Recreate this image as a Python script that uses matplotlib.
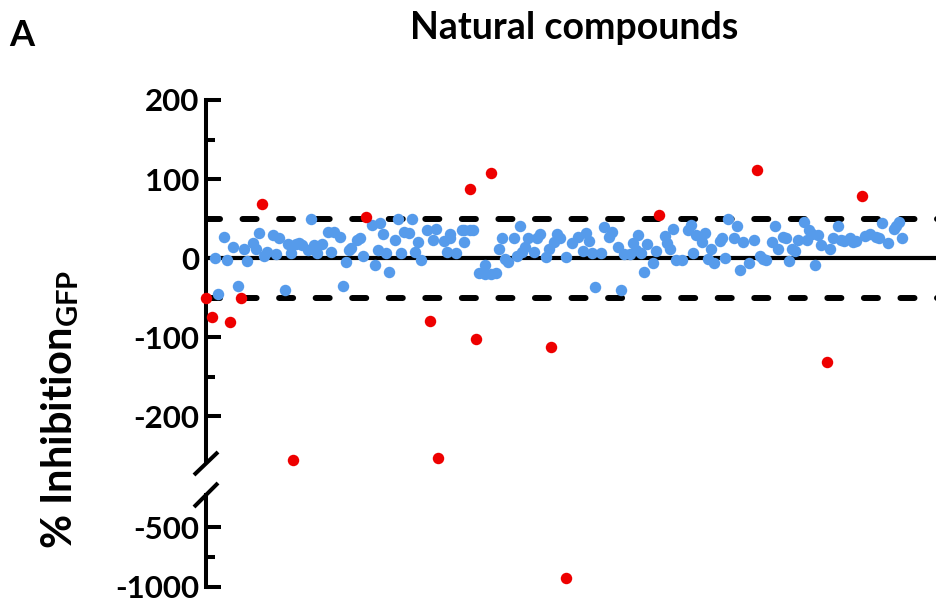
import matplotlib
matplotlib.use("Agg")
import matplotlib.pyplot as plt
from matplotlib.lines import Line2D
import numpy as np

plt.rcParams['font.family'] = ['Lato', 'DejaVu Sans']
plt.rcParams['font.weight'] = 'bold'
plt.rcParams['axes.unicode_minus'] = False
plt.rcParams['mathtext.fontset'] = 'custom'
plt.rcParams['mathtext.rm'] = 'Lato:bold'
plt.rcParams['mathtext.bf'] = 'Lato:bold'

# ---- data: compound position (screen order) and % inhibition ----
inactive_idx = [3, 4, 6, 7, 9, 11, 13, 14, 16, 17, 18, 20, 21, 23, 24, 25, 27, 28, 29,
                31, 32, 33, 35, 36, 37, 38, 40, 42, 43, 44, 46, 47, 48, 49, 50, 52, 53,
                54, 57, 58, 59, 60, 61, 62, 63, 65, 66, 67, 68, 70, 71, 72, 73, 74, 76,
                78, 79, 82, 83, 84, 84, 86, 88, 89, 89, 91, 92, 94, 96, 96, 98, 100, 101,
                102, 103, 104, 106, 107, 108, 109, 110, 111, 113, 114, 115, 117, 118, 120,
                121, 122, 124, 126, 128, 130, 131, 132, 133, 134, 136, 137, 139, 140, 142,
                143, 144, 146, 147, 148, 149, 150, 151, 152, 154, 155, 158, 159, 160, 161,
                162, 164, 166, 167, 168, 169, 171, 172, 173, 174, 175, 177, 178, 179, 180,
                182, 183, 184, 185, 187, 189, 191, 192, 193, 195, 196, 197, 199, 200, 201,
                202, 203, 204, 206, 207, 208, 209, 210, 211, 212, 215, 216, 218, 219, 220,
                222, 223, 224, 227, 229, 231, 232, 233, 235, 237, 238, 239, 240]
inactive_val = [0, -45, 27, -2, 14, -35, 12, -4, 19, 11, 32, 3, 8, 29, 5, 25, -41, 18, 6,
                18, 19, 16, 10, 49, 16, 6, 18, 33, 8, 33, 27, -35, -5, 10, 13, 23, 25,
                3, 42, -9, 10, 44, 31, 6, -17, 23, 50, 6, 33, 32, 50, 8, 20, -2, 36,
                23, 37, 21, 8, 30, 25, 7, 35, 20, 36, 36, 36, -19, -9, -20, -20, -19, 11,
                26, -1, -5, 26, 3, 40, 8, 14, 26, 8, 26, 31, 1, 11, 20,
                30, 25, 1, 19, 27, 9, 32, 22, 6, -36, 6, 39, 27, 33, 14,
                -41, 5, 5, 19, 10, 29, 6, -17, 18, -6, 9, 28, 19, 11, 37,
                -3, -2, 35, 42, 6, 29, 20, 32, -1, 12, -6, 22, 25, 0, 50,
                25, 40, -15, 20, -6, 23, 2, -1, -3, 20, 40, 11, 27, 25, -4,
                11, 9, 23, 46, 23, 36, 31, -9, 29, 16, 12, 26, 40, 23, 22,
                26, 20, 22, 28, 30, 27, 26, 44, 19, 37, 40, 46, 26]

hit_idx = [0, 2, 8, 12, 19, 30, 55, 77, 80, 91, 93, 98, 119, 124, 156, 190, 214, 226]
hit_val = [-51, -75, -81, -50, 69, -256, 52, -79, -253, 88, -103, 108, -113, -924,
           55, 111, -132, 78]

threshold = 50
upper_ticks = [-200, -100, 0, 100, 200]
upper_minor = [-150, -50, 50, 150]
lower_ticks = [-1000, -500]
lower_minor = [-750]
upper_lim = (-258, 200)
lower_lim = (-1000, -233)
n_slots = 252

BLUE = '#569BEB'
RED = '#EE0000'

W, H = 937, 603
fig = plt.figure(figsize=(W / 100, H / 100), dpi=100)


def box(l, t, r, b):
    return [l / W, 1 - b / H, (r - l) / W, (b - t) / H]


ax_top = fig.add_axes(box(206.5, 100, 937, 462))
ax_bot = fig.add_axes(box(206.5, 495, 937, 587))

inactive_idx = np.array(inactive_idx)
inactive_val = np.array(inactive_val)
hit_idx = np.array(hit_idx)
hit_val = np.array(hit_val)

for ax, lim in ((ax_top, upper_lim), (ax_bot, lower_lim)):
    ax.set_xlim(0, n_slots)
    ax.set_ylim(*lim)
    for s in ('top', 'right', 'bottom'):
        ax.spines[s].set_visible(False)
    ax.spines['left'].set_linewidth(2.9)
    ax.set_xticks([])
    ax.tick_params(axis='y', which='major', direction='in', length=10.5, width=2.9,
                   labelsize=22.5, pad=5)
    ax.tick_params(axis='y', which='minor', direction='in', length=6.5, width=2.9)
    ax.patch.set_visible(False)

ax_top.set_yticks(upper_ticks)
ax_top.set_yticks(upper_minor, minor=True)
ax_bot.set_yticks(lower_ticks)
ax_bot.set_yticks(lower_minor, minor=True)
for ax in (ax_top, ax_bot):
    for lab in ax.get_yticklabels():
        lab.set_fontweight('bold')

# reference lines: zero and +/- threshold
ax_top.axhline(0, color='black', lw=3.0, zorder=1)
for t in (threshold, -threshold):
    ax_top.axhline(t, color='black', lw=4.3, zorder=1, dashes=(2.35, 3.77),
                   dash_capstyle='round')


def split(idx, val, lo_cut):
    m = val >= lo_cut
    return (idx[m], val[m]), (idx[~m], val[~m])


(bi_u, bv_u), (bi_l, bv_l) = split(inactive_idx, inactive_val, upper_lim[0] - 5)
(ri_u, rv_u), (ri_l, rv_l) = split(hit_idx, hit_val, upper_lim[0] - 5)

ms = 68
ax_top.scatter(bi_u, bv_u, s=ms, color=BLUE, linewidths=0, zorder=3, clip_on=False)
ax_top.scatter(ri_u, rv_u, s=ms, color=RED, linewidths=0, zorder=4, clip_on=False)
ax_bot.scatter(bi_l, bv_l, s=ms, color=BLUE, linewidths=0, zorder=3, clip_on=False)
ax_bot.scatter(ri_l, rv_l, s=ms, color=RED, linewidths=0, zorder=4, clip_on=False)

# axis-break marks
for (x0, y0, x1, y1) in ((194, 475, 218, 452), (194, 507, 218, 483)):
    fig.add_artist(Line2D([x0 / W, x1 / W], [1 - y0 / H, 1 - y1 / H],
                          transform=fig.transFigure, color='black', lw=2.9,
                          solid_capstyle='butt'))

fig.text(60 / W, 1 - 409 / H, r'% Inhibition$_{\mathbf{GFP}}$', rotation=90,
         ha='center', va='center', fontsize=30, fontweight='bold')
fig.text(574 / W, 1 - 28 / H, 'Natural compounds', ha='center', va='center',
         fontsize=27, fontweight='bold')
fig.text(22 / W, 1 - 35 / H, 'A', ha='center', va='center', fontsize=26,
         fontweight='bold')

fig.savefig('out.png', dpi=100)
